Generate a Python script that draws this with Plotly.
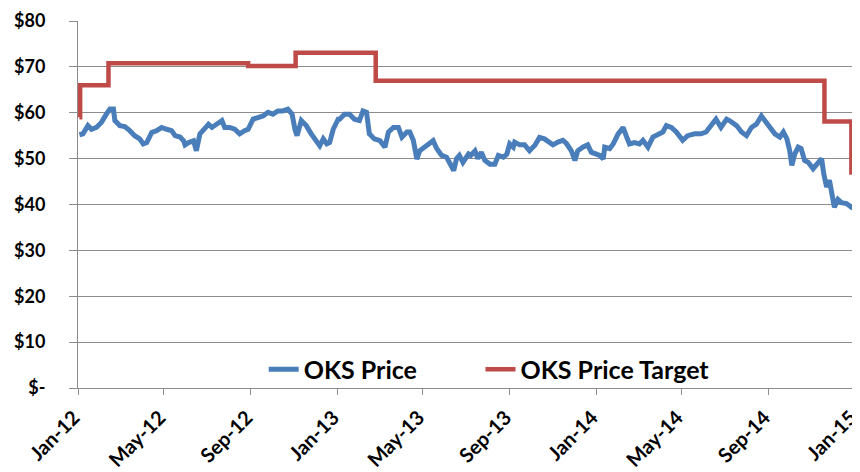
import plotly.graph_objects as go

# ---- OKS Price ----
price_dates = [
    "2012-01-03","2012-01-08","2012-01-15","2012-01-20","2012-01-27","2012-02-03","2012-02-10","2012-02-15",
    "2012-02-20","2012-02-22","2012-02-29","2012-03-07","2012-03-14","2012-03-21","2012-03-28","2012-04-02",
    "2012-04-07","2012-04-14","2012-04-21","2012-04-28","2012-05-05","2012-05-12","2012-05-17","2012-05-24",
    "2012-05-29","2012-05-31","2012-06-05","2012-06-12","2012-06-16","2012-06-21","2012-06-28","2012-07-03",
    "2012-07-08","2012-07-15","2012-07-22","2012-07-26","2012-08-02","2012-08-09","2012-08-16","2012-08-23",
    "2012-08-28","2012-09-04","2012-09-11","2012-09-18","2012-09-25","2012-10-02","2012-10-09","2012-10-16",
    "2012-10-23","2012-10-29","2012-11-02","2012-11-05","2012-11-11","2012-11-18","2012-11-25","2012-12-03",
    "2012-12-07","2012-12-12","2012-12-17","2012-12-21","2012-12-26","2013-01-02","2013-01-04","2013-01-11",
    "2013-01-18","2013-01-25","2013-02-01","2013-02-06","2013-02-11","2013-02-15","2013-02-22","2013-03-02",
    "2013-03-09","2013-03-14","2013-03-21","2013-03-28","2013-04-02","2013-04-09","2013-04-13","2013-04-18",
    "2013-04-23","2013-04-27","2013-05-04","2013-05-11","2013-05-16","2013-05-21","2013-05-28","2013-06-04",
    "2013-06-11","2013-06-14","2013-06-18","2013-06-22","2013-06-27","2013-07-05","2013-07-08","2013-07-14",
    "2013-07-18","2013-07-23","2013-07-28","2013-08-04","2013-08-11","2013-08-16","2013-08-23","2013-08-28",
    "2013-09-01","2013-09-06","2013-09-08","2013-09-15","2013-09-22","2013-09-29","2013-10-07","2013-10-13",
    "2013-10-20","2013-10-27","2013-11-01","2013-11-08","2013-11-15","2013-11-20","2013-11-27","2013-12-02",
    "2013-12-06","2013-12-13","2013-12-20","2013-12-25","2014-01-02","2014-01-06","2014-01-11","2014-01-13",
    "2014-01-20","2014-01-25","2014-02-01","2014-02-08","2014-02-13","2014-02-17","2014-02-24","2014-03-03",
    "2014-03-08","2014-03-15","2014-03-22","2014-03-29","2014-04-05","2014-04-10","2014-04-17","2014-04-24",
    "2014-05-03","2014-05-10","2014-05-20","2014-05-29","2014-06-05","2014-06-12","2014-06-19","2014-06-26",
    "2014-07-04","2014-07-08","2014-07-18","2014-07-25","2014-08-01","2014-08-08","2014-08-15","2014-08-22",
    "2014-08-27","2014-09-03","2014-09-10","2014-09-17","2014-09-22","2014-09-27","2014-10-01","2014-10-04",
    "2014-10-08","2014-10-13","2014-10-17","2014-10-22","2014-10-27","2014-11-03","2014-11-10","2014-11-15",
    "2014-11-18","2014-11-22","2014-11-26","2014-11-30","2014-12-03","2014-12-08","2014-12-13","2014-12-20",
    "2014-12-27","2015-01-02",
]
price_values = [
    55.2, 55.4, 57.2, 56.4, 56.8, 57.9, 59.7, 60.8,
    60.8, 58.3, 57.2, 57.0, 56.1, 55.0, 54.3, 53.2,
    53.5, 55.7, 56.1, 56.8, 56.4, 56.1, 55.0, 54.7,
    53.9, 53.0, 53.5, 53.9, 51.7, 55.4, 56.6, 57.5,
    56.8, 57.5, 58.3, 56.8, 56.8, 56.4, 55.4, 56.1,
    56.4, 58.6, 58.9, 59.3, 60.1, 59.7, 60.4, 60.4,
    60.8, 59.7, 56.4, 55.0, 58.3, 57.2, 55.4, 53.9,
    52.8, 54.3, 53.2, 53.5, 56.4, 58.6, 58.6, 59.7,
    59.7, 58.6, 58.3, 60.4, 60.1, 55.4, 54.3, 53.9,
    52.5, 55.8, 56.8, 56.8, 54.7, 55.8, 55.8, 54.0,
    49.9, 51.7, 52.5, 53.2, 53.9, 52.2, 50.7, 50.3,
    48.5, 47.4, 50.0, 50.7, 49.2, 51.0, 50.7, 51.7,
    50.0, 51.4, 49.6, 48.8, 48.8, 50.7, 50.3, 51.0,
    53.2, 52.5, 53.6, 53.0, 53.0, 51.7, 53.0, 54.6,
    54.3, 53.6, 53.0, 53.6, 54.0, 53.3, 51.7, 49.6,
    51.7, 52.5, 53.0, 51.4, 51.0, 50.7, 49.9, 52.5,
    52.2, 53.2, 55.4, 56.8, 54.7, 53.2, 53.5, 53.2,
    54.0, 52.5, 54.7, 55.4, 55.8, 57.2, 56.8, 55.8,
    54.0, 55.0, 55.4, 55.4, 55.8, 57.2, 58.6, 56.8,
    58.6, 58.3, 57.2, 55.8, 55.0, 56.8, 57.5, 59.3,
    58.3, 57.2, 55.4, 54.7, 55.8, 54.3, 51.7, 48.5,
    51.0, 52.5, 52.2, 49.6, 49.2, 47.8, 49.2, 50.0,
    46.7, 43.8, 45.3, 40.9, 39.4, 41.1, 40.4, 40.2,
    39.4, 40.0,
]

# ---- OKS Price Target (step changes) ----
target_dates = ["2012-01-03", "2012-01-04", "2012-02-13", "2012-08-28", "2012-11-03",
                "2013-02-24", "2014-11-19", "2014-12-27", "2015-01-02"]
target_values = [59.0, 66.0, 70.8, 70.2, 73.1, 67.0, 58.1, 47.0, 47.0]

# ---- axis ticks ----
y_ticks = [0, 10, 20, 30, 40, 50, 60, 70, 80]
y_ticklabels = ["$-", "$10", "$20", "$30", "$40", "$50", "$60", "$70", "$80"]
x_ticks = ["2012-01-01", "2012-05-01", "2012-09-01", "2013-01-01", "2013-05-01",
           "2013-09-01", "2014-01-01", "2014-05-01", "2014-09-01", "2015-01-01"]
x_ticklabels = ["Jan-12", "May-12", "Sep-12", "Jan-13", "May-13",
                "Sep-13", "Jan-14", "May-14", "Sep-14", "Jan-15"]

BLUE = "#4a7ebb"
RED = "#be4b48"
GRID = "#8c8c8c"
FONT = "Lato"

fig = go.Figure()
fig.add_trace(go.Scatter(x=price_dates, y=price_values, mode="lines", name="OKS Price",
                         line=dict(color=BLUE, width=5), legend="legend"))
fig.add_trace(go.Scatter(x=target_dates, y=target_values, mode="lines", name="OKS Price Target",
                         line=dict(color=RED, width=4.5, shape="hv"), legend="legend2"))

legend_common = dict(orientation="h", y=-0.012, yanchor="bottom", xanchor="left",
                     bgcolor="rgba(0,0,0,0)", font=dict(size=25, family=FONT, weight="bold"))

# the page body adds an 8px offset, so the figure is sized 852x464
fig.update_layout(
    width=852, height=464,
    margin=dict(l=70, r=5, t=13, b=84, autoexpand=False),
    paper_bgcolor="white", plot_bgcolor="white",
    font=dict(family=FONT, color="black"),
    showlegend=True,
    legend=dict(x=0.239, **legend_common),
    legend2=dict(x=0.518, **legend_common),
    xaxis=dict(
        type="date", range=["2012-01-01", "2015-01-01 02:00"],
        tickvals=x_ticks, ticktext=x_ticklabels, tickangle=-45,
        tickfont=dict(size=20, family=FONT, weight="bold"),
        showgrid=False, showline=True, linecolor=GRID, linewidth=1,
        ticks="outside", ticklen=6, tickcolor=GRID, zeroline=False,
        automargin=False, ticklabeloverflow="allow",
        ticklabelstandoff=3, ticklabelshift=-4,
    ),
    yaxis=dict(
        range=[0, 80], tickvals=y_ticks, ticktext=y_ticklabels,
        tickfont=dict(size=18, family=FONT, weight="bold"),
        showgrid=True, gridcolor=GRID, gridwidth=1,
        showline=True, linecolor=GRID, linewidth=1,
        ticks="outside", ticklen=8, tickcolor=GRID, zeroline=False,
        ticklabelstandoff=20, automargin=False,
    ),
)

fig.write_html("out.html")
